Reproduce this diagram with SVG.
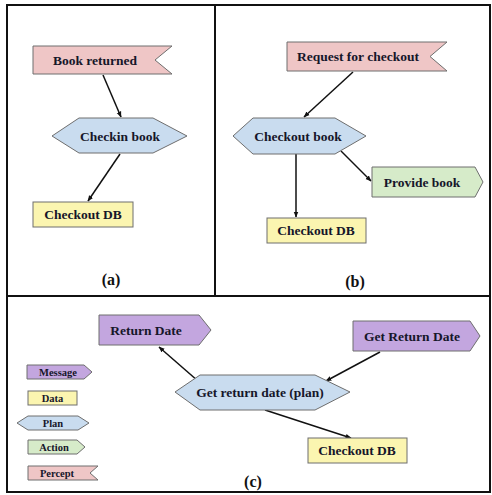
<svg xmlns="http://www.w3.org/2000/svg" width="492" height="495" viewBox="0 0 492 495">
  <defs>
    <marker id="arrow" viewBox="0 0 10 10" refX="9" refY="5" markerWidth="6" markerHeight="6" orient="auto" markerUnits="userSpaceOnUse">
      <path d="M0,1 L10,5 L0,9 Z" fill="#111"/>
    </marker>
    <style>
      .frame { fill: none; stroke: #111; stroke-width: 2; }
      .shape { stroke: #6e6e6e; stroke-width: 1; }
      .percept { fill: #efc6c6; }
      .plan { fill: #c9dcef; }
      .data { fill: #fbf5b0; }
      .action { fill: #d6ebc9; }
      .message { fill: #c3a6df; }
      text { font-family: "Liberation Serif", "Times New Roman", serif; font-weight: bold; fill: #16162a; text-anchor: middle; dominant-baseline: central; }
      .lbl { font-size: 13.5px; }
      .sm { font-size: 10.5px; }
      .cap { font-size: 16px; fill: #111; }
      .edge { stroke: #111; stroke-width: 1.5; fill: none; marker-end: url(#arrow); }
    </style>
  </defs>

  <rect x="0" y="0" width="492" height="495" fill="#ffffff"/>

  <!-- panel frames -->
  <g id="frames">
    <rect class="frame" x="7" y="5" width="483" height="487"/>
    <line class="frame" x1="215" y1="5" x2="215" y2="296"/>
    <line class="frame" x1="7" y1="296" x2="490" y2="296"/>
  </g>

  <!-- connectors -->
  <g id="connectors">
    <line class="edge" x1="103" y1="75" x2="121" y2="117"/>
    <line class="edge" x1="120" y1="154" x2="88" y2="201"/>
    <line class="edge" x1="353" y1="72" x2="304" y2="117"/>
    <line class="edge" x1="296" y1="154" x2="296" y2="217"/>
    <line class="edge" x1="341" y1="151" x2="371" y2="181"/>
    <line class="edge" x1="198" y1="381" x2="159" y2="347"/>
    <line class="edge" x1="380" y1="352" x2="326" y2="381"/>
    <line class="edge" x1="265" y1="410" x2="351" y2="438"/>
  </g>

  <!-- panel (a) -->
  <g id="a-book-returned">
    <polygon class="shape percept" points="33,46 172,46 155,60 172,74 33,74"/>
    <text class="lbl" x="95" y="60">Book returned</text>
  </g>
  <g id="a-checkin-book">
    <polygon class="shape plan" points="52,136 79,118 153,118 187,136 153,153 79,153"/>
    <text class="lbl" x="120" y="136">Checkin book</text>
  </g>
  <g id="a-checkout-db">
    <rect class="shape data" x="33" y="202" width="100" height="25"/>
    <text class="lbl" x="83" y="214.5">Checkout DB</text>
  </g>
  <text class="cap" x="111" y="279">(a)</text>

  <!-- panel (b) -->
  <g id="b-request">
    <polygon class="shape percept" points="287,42 447,42 430,56.5 447,71 287,71"/>
    <text class="lbl" x="358" y="56.5">Request for checkout</text>
  </g>
  <g id="b-checkout-book">
    <polygon class="shape plan" points="233,136 253,118 335,118 366,136 335,154 253,154"/>
    <text class="lbl" x="298" y="136">Checkout book</text>
  </g>
  <g id="b-provide-book">
    <polygon class="shape action" points="372,167 475,167 483,182 475,197 372,197"/>
    <text class="lbl" x="422" y="182">Provide book</text>
  </g>
  <g id="b-checkout-db">
    <rect class="shape data" x="267" y="218" width="99" height="25"/>
    <text class="lbl" x="316" y="230.5">Checkout DB</text>
  </g>
  <text class="cap" x="355" y="281">(b)</text>

  <!-- panel (c) -->
  <g id="c-return-date">
    <polygon class="shape message" points="99,315 199,315 211,330 199,345 99,345"/>
    <text class="lbl" x="146" y="330">Return Date</text>
  </g>
  <g id="c-get-return-date">
    <polygon class="shape message" points="353,321 470,321 480,336 470,351 353,351"/>
    <text class="lbl" x="412" y="336">Get Return Date</text>
  </g>
  <g id="c-plan">
    <polygon class="shape plan" points="175,392 200,375 315,375 350,392 315,410 200,410"/>
    <text class="lbl" x="260" y="392.5">Get return date (plan)</text>
  </g>
  <g id="c-checkout-db">
    <rect class="shape data" x="308" y="438" width="99" height="25"/>
    <text class="lbl" x="357" y="450.5">Checkout DB</text>
  </g>
  <text class="cap" x="253" y="481">(c)</text>

  <!-- legend -->
  <g id="legend-message">
    <polygon class="shape message" points="27,365 84,365 92,372 84,379 27,379"/>
    <text class="sm" x="58" y="372">Message</text>
  </g>
  <g id="legend-data">
    <rect class="shape data" x="28" y="391" width="49" height="14"/>
    <text class="sm" x="52.5" y="398">Data</text>
  </g>
  <g id="legend-plan">
    <polygon class="shape plan" points="17,423 28,416 78,416 89,423 78,430 28,430"/>
    <text class="sm" x="53" y="423">Plan</text>
  </g>
  <g id="legend-action">
    <polygon class="shape action" points="28,440 77,440 85,447 77,454 28,454"/>
    <text class="sm" x="54" y="447">Action</text>
  </g>
  <g id="legend-percept">
    <polygon class="shape percept" points="28,466 98,466 90,473 98,480 28,480"/>
    <text class="sm" x="57" y="473">Percept</text>
  </g>
</svg>
